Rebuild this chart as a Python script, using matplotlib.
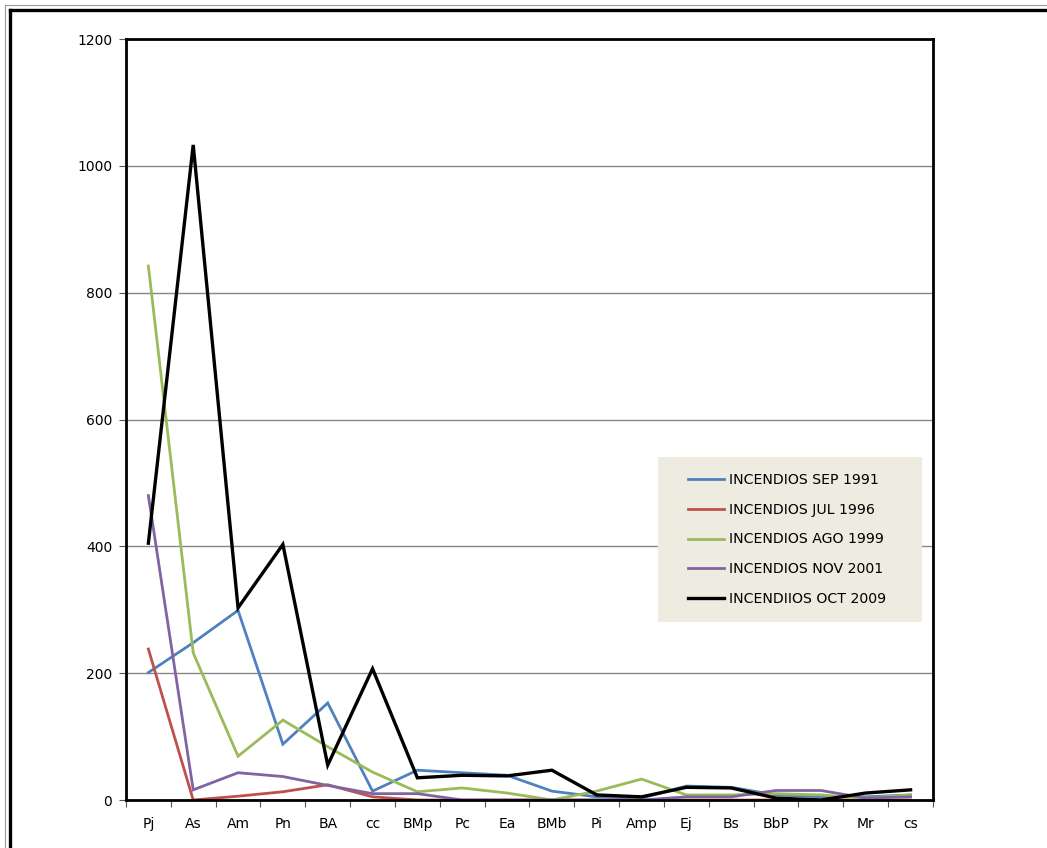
import matplotlib

matplotlib.use("Agg")
import matplotlib.pyplot as plt
import numpy as np
from matplotlib.lines import Line2D
from matplotlib.patches import Rectangle

plt.rcParams["font.family"] = ["DejaVu Sans"]

# categories on the x axis
categories = ["Pj", "As", "Am", "Pn", "BA", "cc", "BMp", "Pc", "Ea", "BMb",
              "Pi", "Amp", "Ej", "Bs", "BbP", "Px", "Mr", "cs"]

# values
sep_1991 = [201, 248, 299, 88, 153, 14, 47, 43, 39, 14,
            5, 3, 22, 20, 8, 5, 5, 8]
jul_1996 = [238, 0, 6, 13, 24, 5, 0, 0, 0, 0,
            0, 0, 0, 0, 0, 0, 0, 0]
ago_1999 = [842, 232, 69, 126, 84, 44, 13, 19, 11, 0,
            14, 33, 8, 8, 10, 8, 3, 8]
nov_2001 = [480, 16, 43, 37, 23, 10, 10, 0, 0, 0,
            0, 0, 5, 5, 15, 15, 3, 5]
oct_2009 = [405, 1033, 303, 403, 55, 207, 35, 39, 38, 47,
            8, 5, 20, 19, 3, 0, 11, 16]

series = [
    ("INCENDIOS SEP 1991", sep_1991, "#4F81BD", 2.0),
    ("INCENDIOS JUL 1996", jul_1996, "#C0504D", 2.0),
    ("INCENDIOS AGO 1999", ago_1999, "#9BBB59", 2.0),
    ("INCENDIOS NOV 2001", nov_2001, "#8064A2", 2.0),
    ("INCENDIIOS OCT 2009", oct_2009, "#000000", 2.4),
]

fig = plt.figure(figsize=(10.47, 8.48), dpi=100)
ax = fig.add_axes([0.1203, 0.0566, 0.7708, 0.8974])

xs = np.arange(len(categories))
for label, vals, color, lw in series:
    ax.plot(xs, vals, color=color, linewidth=lw, label=label,
            solid_joinstyle="miter")

ax.set_xlim(-0.5, len(categories) - 0.5)
ax.set_ylim(0, 1200)
ax.set_yticks(np.arange(0, 1201, 200))
ax.yaxis.grid(True, color="#868686", linewidth=1.0)
ax.set_axisbelow(True)

ax.set_xticks(xs)
ax.set_xticklabels(categories, fontsize=10)
ax.set_xticks(np.arange(-0.5, len(categories), 1.0), minor=True)
ax.tick_params(axis="x", which="major", length=0, pad=12)
ax.tick_params(axis="x", which="minor", length=5, width=0.8, color="#555555")
ax.tick_params(axis="y", length=5, width=0.8, color="#555555", labelsize=10,
               pad=5)

for side in ["left", "right", "top", "bottom"]:
    ax.spines[side].set_linewidth(2.0)
    ax.spines[side].set_color("black")

# legend sits on a beige panel like the spreadsheet original
fig.add_artist(Rectangle((0.6285, 0.2665), 0.2521, 0.1946,
                         transform=fig.transFigure, facecolor="#EEECE1",
                         edgecolor="none", zorder=4))
leg = ax.legend(loc="center left", bbox_to_anchor=(0.657, 0.3638),
                bbox_transform=fig.transFigure, frameon=False, fontsize=10.2,
                handlelength=2.55, labelspacing=1.12, borderpad=0,
                borderaxespad=0, handletextpad=0.35)
leg.set_zorder(5)
fig.add_artist(leg)

# outer chart frame (only top and left edges visible in the reference)
fig.add_artist(Line2D([0.0095, 1.0], [0.988, 0.988], transform=fig.transFigure,
                      color="black", linewidth=2.4))
fig.add_artist(Line2D([0.0095, 0.0095], [0.0, 0.988], transform=fig.transFigure,
                      color="black", linewidth=2.4))
fig.add_artist(Line2D([0.0045, 1.0], [0.994, 0.994], transform=fig.transFigure,
                      color="#999999", linewidth=0.8))
fig.add_artist(Line2D([0.0045, 0.0045], [0.0, 0.994], transform=fig.transFigure,
                      color="#999999", linewidth=0.8))

fig.savefig("out.png", dpi=100)
